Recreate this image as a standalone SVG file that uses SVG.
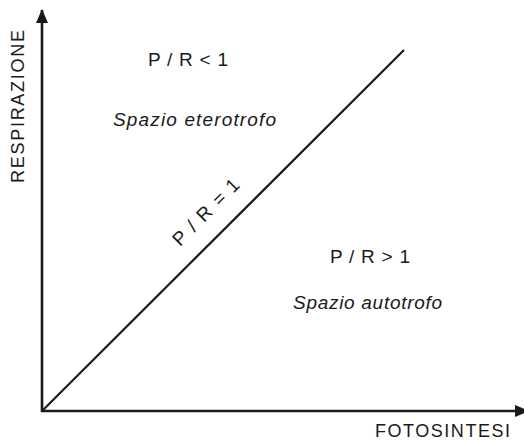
<svg xmlns="http://www.w3.org/2000/svg" width="524" height="442" viewBox="0 0 524 442">
  <style>
    .ax { stroke: #1a1a1a; stroke-width: 2.6; fill: none; }
    .diag { stroke: #1a1a1a; stroke-width: 2.2; fill: none; }
    .t { font-family: "Liberation Sans", Arial, sans-serif; font-size: 19px; fill: #1a1a1a; }
    .ax-t { font-size: 18px; }
    .it { font-style: italic; }
  </style>
  <defs>
    <marker id="arr" viewBox="0 0 14 12" refX="13" refY="6" markerWidth="14" markerHeight="12" markerUnits="userSpaceOnUse" orient="auto">
      <path d="M0,0 L14,6 L0,12 Z" fill="#1a1a1a"/>
    </marker>
  </defs>
  <g id="connectors">
    <line class="ax" x1="42" y1="412" x2="42" y2="10" marker-end="url(#arr)"/>
    <line class="ax" x1="41" y1="411" x2="528" y2="411" marker-end="url(#arr)"/>
    <line class="diag" x1="42" y1="411" x2="404" y2="50"/>
  </g>
  <g id="axis-y">
    <text class="t ax-t" transform="translate(24,183) rotate(-90)" textLength="153" lengthAdjust="spacing">RESPIRAZIONE</text>
  </g>
  <g id="axis-x">
    <text class="t ax-t" x="375" y="437" textLength="135" lengthAdjust="spacing">FOTOSINTESI</text>
  </g>
  <g id="heterotroph">
    <text class="t" x="148" y="66" textLength="80" lengthAdjust="spacing">P / R &lt; 1</text>
    <text class="t it" x="113" y="126" textLength="163" lengthAdjust="spacing">Spazio eterotrofo</text>
  </g>
  <g id="line-label">
    <text class="t" transform="translate(180,247) rotate(-45)" textLength="86" lengthAdjust="spacing">P / R = 1</text>
  </g>
  <g id="autotroph">
    <text class="t" x="330" y="263" textLength="80" lengthAdjust="spacing">P / R &gt; 1</text>
    <text class="t it" x="293" y="309" textLength="149" lengthAdjust="spacing">Spazio autotrofo</text>
  </g>
</svg>
